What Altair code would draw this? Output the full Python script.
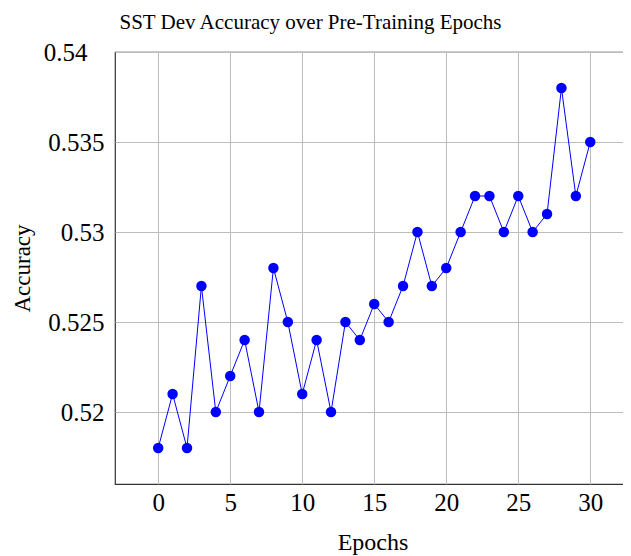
import altair as alt
import pandas as pd

epochs = list(range(31))
accuracy = [0.518, 0.521, 0.518, 0.527, 0.520, 0.522, 0.524, 0.520, 0.528, 0.525,
            0.521, 0.524, 0.520, 0.525, 0.524, 0.526, 0.525, 0.527, 0.530, 0.527,
            0.528, 0.530, 0.532, 0.532, 0.530, 0.532, 0.530, 0.531, 0.538, 0.532,
            0.535]
x_ticks = [0, 5, 10, 15, 20, 25, 30]
y_ticks = [0.52, 0.525, 0.53, 0.535, 0.54]

df = pd.DataFrame({"Epochs": epochs, "Accuracy": accuracy})
FONT = "Liberation Serif"

x = alt.X("Epochs:Q", scale=alt.Scale(domain=[-3, 32.76], nice=False, zero=False),
          axis=alt.Axis(title="Epochs", values=x_ticks, format="d", labelFontSize=25,
                        titleFontSize=24, labelPadding=6, titlePadding=15, ticks=False,
                        domain=False, labelFont=FONT, titleFont=FONT, titleFontWeight="normal",
                        gridColor="#bdbdbd", labelColor="black", titleColor="black"))
y = alt.Y("Accuracy:Q", scale=alt.Scale(domain=[0.516, 0.54], nice=False, zero=False),
          axis=alt.Axis(title="Accuracy",
                        values=y_ticks,
                        labelExpr="replace(format(datum.value, '.3~f'), /0+$/, '')",
                        labelFontSize=25, titleFontSize=23,
                        labelPadding={"condition": {"test": "datum.value >= 0.5395", "value": 28}, "value": 11},
                        titleX=-81, titleBaseline="bottom",
                        ticks=False, domain=False, labelFont=FONT, titleFont=FONT,
                        titleFontWeight="normal", gridColor="#bdbdbd", labelColor="black",
                        titleColor="black"))

line = alt.Chart(df).mark_line(color="#0000ff", strokeWidth=1).encode(x=x, y=y)
pts = alt.Chart(df).mark_circle(color="#0000ff", opacity=1, size=110).encode(x=x, y=y)

chart = (line + pts).properties(
    width=515, height=432,
    title=alt.TitleParams("SST Dev Accuracy over Pre-Training Epochs", font=FONT, fontSize=21,
                          fontWeight="normal", color="black", offset=7, frame="group",
                          anchor="middle", dx=-62),
    autosize=alt.AutoSizeParams(type="none"),
    padding={"left": 107, "top": 44, "right": -7, "bottom": 72},
).configure_view(stroke="#333333", strokeWidth=1.2)

chart.save("out.html", embed_options={"renderer": "svg", "actions": False})
